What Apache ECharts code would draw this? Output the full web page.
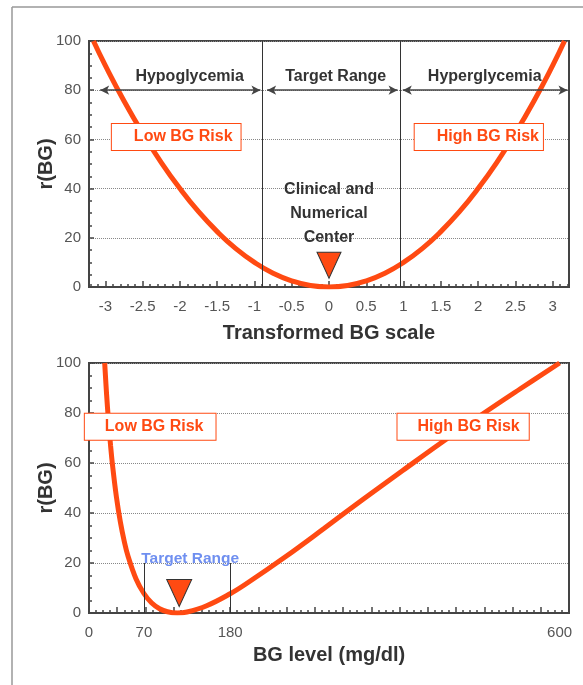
<!DOCTYPE html>
<html>
<head>
<meta charset="utf-8">
<script src="https://cdn.jsdelivr.net/npm/echarts@6/dist/echarts.min.js"></script>
<style>
  html, body { margin: 0; padding: 0; background: #fff; }
  #chart { width: 583px; height: 685px; }
</style>
</head>
<body>
<div id="chart"></div>
<script>
// Risk on the transformed (symmetric) BG scale
const scaleX = [-3.16, -3, -2.75, -2.5, -2.25, -2, -1.75, -1.5, -1.25, -1, -0.75, -0.5, -0.25, 0,
                0.25, 0.5, 0.75, 1, 1.25, 1.5, 1.75, 2, 2.25, 2.5, 2.75, 3, 3.16];
const scaleRisk = [100, 90, 75.6, 62.5, 50.6, 40, 30.6, 22.5, 15.6, 10, 5.6, 2.5, 0.6, 0,
                   0.6, 2.5, 5.6, 10, 15.6, 22.5, 30.6, 40, 50.6, 62.5, 75.6, 90, 100];

// Risk against BG level in mg/dl
const bgLevel = [20, 22.5, 25, 27.5, 30, 35, 40, 45, 50, 60, 70, 80, 90, 100, 112.5, 125, 150,
                 180, 200, 250, 300, 350, 400, 450, 500, 550, 600];
const bgRisk = [100, 87.1, 76.3, 67.0, 59.1, 46.3, 36.4, 28.6, 22.5, 13.6, 7.8, 4.0, 1.7, 0.5, 0, 0.4, 2.9,
                7.7, 11.6, 22.4, 33.9, 45.6, 57.0, 68.3, 79.2, 89.7, 100];

// Tick labels
const scaleTicks = [-3, -2.5, -2, -1.5, -1, -0.5, 0, 0.5, 1, 1.5, 2, 2.5, 3];
const bgTicks = [0, 70, 180, 600];
const riskTicks = [0, 20, 40, 60, 80, 100];

// Zone boundaries (70 and 180 mg/dl) on both scales
const scaleBounds = [-0.89, 0.96];
const bgBounds = [70, 180];
const centerScale = 0;
const centerBG = 115;

const RED = '#ff4a12';
const DARK = '#444';
const FONT = 'Liberation Sans, Arial, Helvetica, sans-serif';

const chart = echarts.init(document.getElementById('chart'), null, { renderer: 'canvas' });

function range(a, b, step) {
  const out = [];
  for (let v = a; v <= b + 1e-9; v += step) out.push(+v.toFixed(4));
  return out;
}

const yAxisBase = {
  type: 'value', min: riskTicks[0], max: riskTicks[riskTicks.length - 1], interval: 20,
  name: 'r(BG)', nameLocation: 'middle', nameGap: 33, nameRotate: 90, nameMoveOverlap: false,
  nameTextStyle: { fontFamily: FONT, fontWeight: 'bold', fontSize: 20, color: '#333' },
  axisLine: { show: true, onZero: false, lineStyle: { color: DARK, width: 2 } },
  axisTick: { show: true, inside: true, length: 5, lineStyle: { color: DARK, width: 1.5 } },
  minorTick: { show: true, splitNumber: 4, length: 3, lineStyle: { color: DARK, width: 1.5 } },
  axisLabel: { fontFamily: FONT, fontSize: 15, color: '#555', margin: 8 },
  splitLine: { show: true, lineStyle: { color: '#888', type: 'dotted', width: 1 } },
  minorSplitLine: { show: false }
};

function boxLabel(text, padLeft, padRight) {
  return {
    show: true, position: 'inside', formatter: text,
    fontFamily: FONT, fontWeight: 'bold', fontSize: 16, color: RED, opacity: 1,
    backgroundColor: '#fff', borderColor: RED, borderWidth: 1,
    padding: [5, padRight, 5, padLeft]
  };
}

function plainLabel(text, color, size, extra) {
  return Object.assign({
    show: true, position: 'inside', formatter: text,
    fontFamily: FONT, fontWeight: 'bold', fontSize: size, color: color, opacity: 1
  }, extra || {});
}

function textPoint(xi, yi, x, y, label) {
  return {
    type: 'scatter', xAxisIndex: xi, yAxisIndex: yi, symbolSize: 0, silent: true, z: 5,
    itemStyle: { color: '#000', opacity: 1 },
    data: [[x, y]],
    label: label
  };
}

const option = {
  backgroundColor: '#fff',
  animation: false,
  grid: [
    { left: 89, right: 14, top: 41, height: 246, show: true, borderColor: DARK, borderWidth: 2, backgroundColor: 'transparent' },
    { left: 89, right: 14, top: 363, height: 250, show: true, borderColor: DARK, borderWidth: 2, backgroundColor: 'transparent' }
  ],
  xAxis: [
    {
      gridIndex: 0, type: 'value', min: -3.22, max: 3.22, position: 'bottom',
      name: 'Transformed BG scale', nameLocation: 'middle', nameGap: 36,
      nameTextStyle: { fontFamily: FONT, fontWeight: 'bold', fontSize: 20, color: '#333' },
      axisLine: { show: true, onZero: false, lineStyle: { color: DARK, width: 2 } },
      axisTick: { show: true, inside: true, length: 6, customValues: scaleTicks, lineStyle: { color: DARK, width: 1.5 } },
      axisLabel: { customValues: scaleTicks, fontFamily: FONT, fontSize: 15, color: '#555', margin: 12,
                   formatter: v => String(+v.toFixed(1)) },
      splitLine: { show: false }
    },
    {
      gridIndex: 0, type: 'value', min: -3.22, max: 3.22, position: 'bottom', offset: 0,
      axisLine: { show: false, onZero: false },
      axisTick: { show: true, inside: true, length: 3, customValues: range(-3.2, 3.2, 0.1), lineStyle: { color: DARK, width: 1.5 } },
      axisLabel: { show: false }, splitLine: { show: false }
    },
    {
      gridIndex: 1, type: 'value', min: 0, max: 612, position: 'bottom',
      name: 'BG level (mg/dl)', nameLocation: 'middle', nameGap: 32,
      nameTextStyle: { fontFamily: FONT, fontWeight: 'bold', fontSize: 20, color: '#333' },
      axisLine: { show: true, onZero: false, lineStyle: { color: DARK, width: 2 } },
      axisTick: { show: true, inside: true, length: 6, customValues: range(0, 612, 36), lineStyle: { color: DARK, width: 1.5 } },
      axisLabel: { customValues: bgTicks, fontFamily: FONT, fontSize: 15, color: '#555', margin: 12 },
      splitLine: { show: false }
    },
    {
      gridIndex: 1, type: 'value', min: 0, max: 612, position: 'bottom', offset: 0,
      axisLine: { show: false, onZero: false },
      axisTick: { show: true, inside: true, length: 3, customValues: range(0, 612, 9), lineStyle: { color: DARK, width: 1.5 } },
      axisLabel: { show: false }, splitLine: { show: false }
    }
  ],
  yAxis: [
    Object.assign({ gridIndex: 0 }, yAxisBase),
    Object.assign({ gridIndex: 1 }, yAxisBase)
  ],
  graphic: [
    { type: 'line', shape: { x1: 12, y1: 7, x2: 583, y2: 7 }, style: { stroke: '#999', lineWidth: 1.5 } },
    { type: 'line', shape: { x1: 12, y1: 7, x2: 12, y2: 685 }, style: { stroke: '#999', lineWidth: 1.5 } }
  ],
  series: [
    // ---------- upper panel ----------
    {
      type: 'line', xAxisIndex: 0, yAxisIndex: 0, smooth: true, symbol: 'none', z: 3,
      lineStyle: { color: RED, width: 5 },
      data: scaleX.map((x, i) => [x, scaleRisk[i]]),
      markLine: {
        silent: true, symbol: 'none', label: { show: false },
        lineStyle: { color: '#333', width: 1, type: 'solid' },
        data: scaleBounds.map(b => [{ coord: [b, 0] }, { coord: [b, 100] }])
      }
    },
    {
      type: 'line', xAxisIndex: 0, yAxisIndex: 0, data: [], z: 4,
      markLine: {
        silent: true, symbol: ['arrow', 'arrow'], symbolSize: [7, 9],
        label: { show: false },
        lineStyle: { color: DARK, width: 1.5, type: 'solid' },
        data: [
          [{ coord: [-3.07, 80] }, { coord: [-0.92, 80] }],
          [{ coord: [-0.83, 80] }, { coord: [0.92, 80] }],
          [{ coord: [0.99, 80] }, { coord: [3.2, 80] }]
        ]
      }
    },
    textPoint(0, 0, -1.87, 85.5, plainLabel('Hypoglycemia', '#333', 16)),
    textPoint(0, 0, 0.09, 85.5, plainLabel('Target Range', '#333', 16)),
    textPoint(0, 0, 2.09, 85.5, plainLabel('Hyperglycemia', '#333', 16)),
    textPoint(0, 0, -2.05, 61, boxLabel('Low BG Risk', 22, 8)),
    textPoint(0, 0, 2.01, 61, boxLabel('High BG Risk', 22, 4)),
    textPoint(0, 0, 0, 30, plainLabel('Clinical and\nNumerical\nCenter', '#333', 16, { lineHeight: 24 })),
    {
      type: 'scatter', xAxisIndex: 0, yAxisIndex: 0, symbol: 'triangle', symbolRotate: 180,
      symbolSize: [24, 26], z: 6, silent: true,
      itemStyle: { color: RED, opacity: 1, borderColor: '#333', borderWidth: 1 },
      data: [[centerScale, 8.8]]
    },

    // ---------- lower panel ----------
    {
      type: 'line', xAxisIndex: 2, yAxisIndex: 1, smooth: 0.4, symbol: 'none', z: 3,
      lineStyle: { color: RED, width: 5 },
      data: bgLevel.map((x, i) => [x, bgRisk[i]]),
      markLine: {
        silent: true, symbol: 'none', label: { show: false },
        lineStyle: { color: '#333', width: 1, type: 'solid' },
        data: bgBounds.map(b => [{ coord: [b, 0] }, { coord: [b, 20] }])
      }
    },
    textPoint(2, 1, 129, 21.6, plainLabel('Target Range', '#6f8ff0', 15.5)),
    textPoint(2, 1, 78, 74.5, boxLabel('Low BG Risk', 20, 12)),
    textPoint(2, 1, 477, 74.5, boxLabel('High BG Risk', 20, 9)),
    {
      type: 'scatter', xAxisIndex: 2, yAxisIndex: 1, symbol: 'triangle', symbolRotate: 180,
      symbolSize: [25, 27], z: 6, silent: true,
      itemStyle: { color: RED, opacity: 1, borderColor: '#333', borderWidth: 1 },
      data: [[centerBG, 8]]
    }
  ]
};

chart.setOption(option);
</script>
</body>
</html>
